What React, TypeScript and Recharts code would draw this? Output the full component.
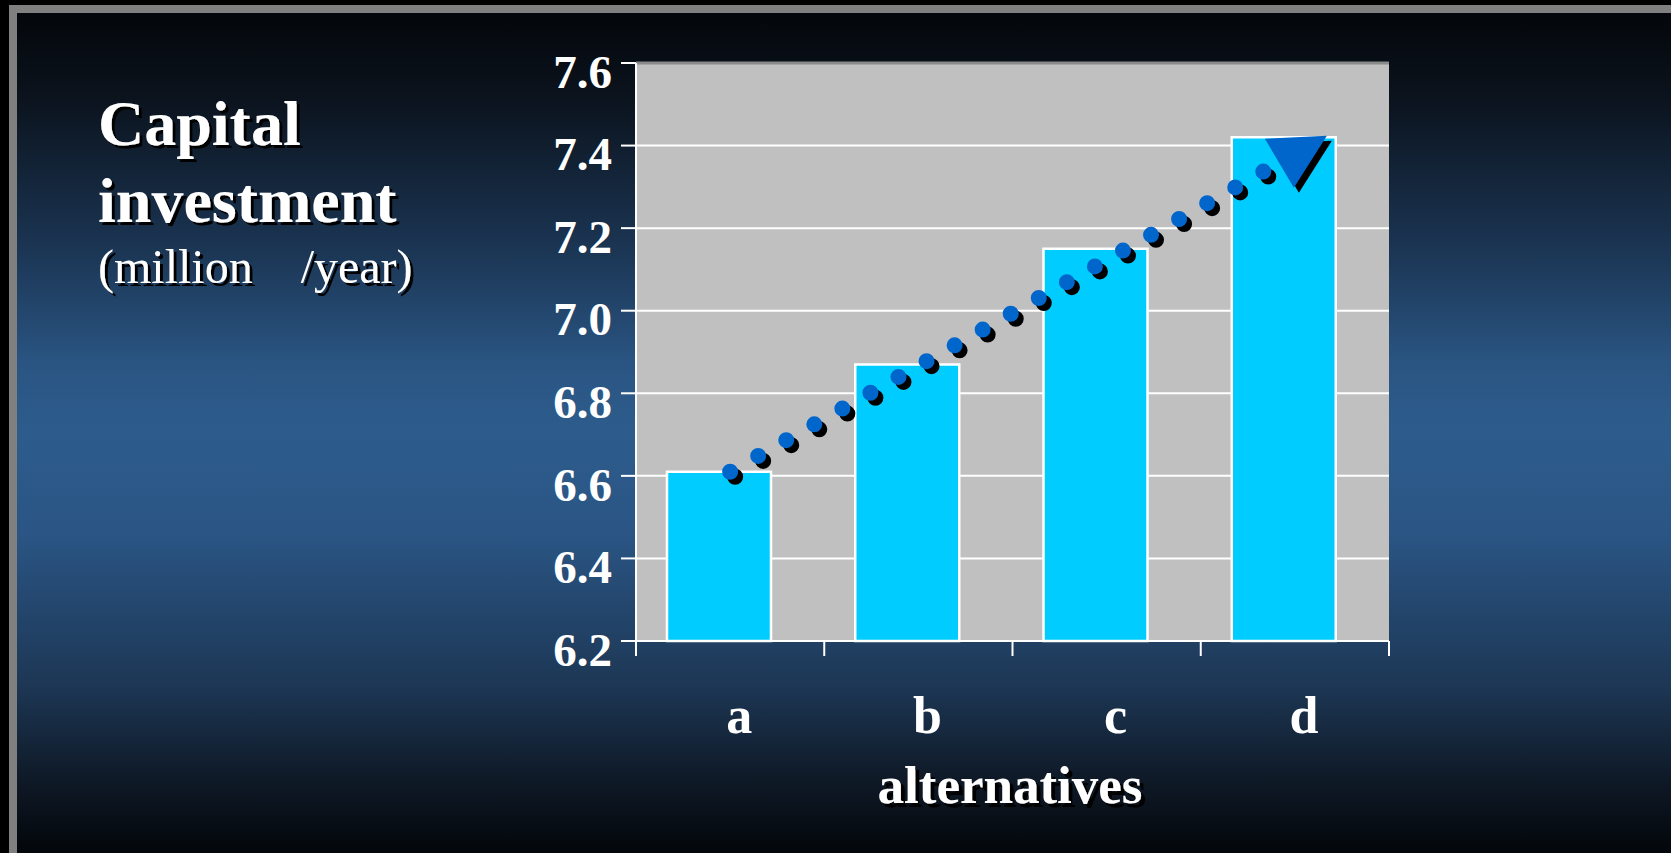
import React from 'react';
import { ComposedChart, Bar, Line, XAxis, YAxis, CartesianGrid, ReferenceLine } from 'recharts';

const categories = ['a', 'b', 'c', 'd'];
const investment = [6.61, 6.87, 7.15, 7.42];
// dotted arrow from a to d
const trend = [6.61, null, null, 7.38];
const yTicks = [6.2, 6.4, 6.6, 6.8, 7.0, 7.2, 7.4, 7.6];

const FONT = '"Liberation Serif", "Times New Roman", serif';
const LABEL_GAP = 55;
const TICK_LEN = 15;

const data = categories.map((name, i) => ({
  name,
  value: investment[i],
  trend: trend[i],
}));

// category label + tick marks on the category boundaries (Excel style)
const CategoryTick = (props: any) => {
  const { x, y, payload, index } = props;
  const half = payload?.offset ?? 0;
  const top = y - LABEL_GAP;
  const isLast = index === categories.length - 1;
  return (
    <g>
      <line x1={x - half} y1={top} x2={x - half} y2={top + TICK_LEN} stroke="#fff" strokeWidth={2} />
      {isLast && <line x1={x + half} y1={top} x2={x + half} y2={top + TICK_LEN} stroke="#fff" strokeWidth={2} />}
      <text x={x + 9} y={y} dy="0.71em" textAnchor="middle" fill="#fff" fontSize={52} fontWeight="bold" fontFamily={FONT}>
        {payload.value}
      </text>
    </g>
  );
};

// arrow head at the end of the dotted line
const ArrowHead = (props: any) => {
  const { cx, cy, index } = props;
  if (index !== categories.length - 1 || cx == null || cy == null) {
    return <g key={`dot-${index}`} />;
  }
  const pts = (dx: number, dy: number) =>
    `${cx - 30 + dx},${cy - 15 + dy} ${cx + 32 + dx},${cy - 18 + dy} ${cx - 1 + dx},${cy + 34 + dy}`;
  return (
    <g key={`dot-${index}`}>
      <polygon points={pts(5, 5)} fill="#000" />
      <polygon points={pts(0, 0)} fill="#0066CC" />
    </g>
  );
};

const ShadowText = ({ x, y, size, bold, children, filter = 'url(#txtShadow3)', anchor = 'start' }: any) => (
  <text
    x={x}
    y={y}
    fontSize={size}
    fontWeight={bold ? 'bold' : 'normal'}
    fontFamily={FONT}
    fill="#fff"
    textAnchor={anchor}
    filter={filter}
    style={{ whiteSpace: 'pre' }}
  >
    {children}
  </text>
);

export default function App() {
  return (
    <div style={{ position: 'fixed', left: 0, top: 0, width: 1671, height: 853, background: '#000', overflow: 'hidden' }}>
      <style>{`.trend-line .recharts-line-curve { filter: drop-shadow(5px 5px 0 #000); }`}</style>
      {/* slide frame */}
      <div style={{ position: 'absolute', left: 9, top: 5, right: 0, bottom: 0, background: '#808080' }} />
      <div
        style={{
          position: 'absolute',
          left: 17,
          top: 13,
          right: 0,
          bottom: 0,
          background:
            'linear-gradient(to bottom, #04070b 0%, #0b131d 10%, #1a3350 27%, #2a5583 42%, #2d5c8c 50%, #2a5584 62%, #1d3755 80%, #0f1a28 91%, #03060a 100%)',
        }}
      />

      <div style={{ position: 'absolute', left: 0, top: 0 }}>
        <ComposedChart
          width={1671}
          height={853}
          data={data}
          margin={{ top: 63, right: 282, left: 536, bottom: 112 }}
          barGap={0}
        >
          <CartesianGrid fill="#C0C0C0" vertical={false} stroke="#fff" strokeWidth={2} yAxisId="left" />
          <XAxis
            dataKey="name"
            height={100}
            axisLine={{ stroke: '#fff', strokeWidth: 2 }}
            tickLine={false}
            tickSize={0}
            tickMargin={LABEL_GAP}
            interval={0}
            tick={<CategoryTick />}
          />
          <YAxis
            yAxisId="left"
            domain={[6.2, 7.6]}
            ticks={yTicks}
            interval={0}
            width={100}
            tickSize={TICK_LEN}
            tickMargin={9}
            tickFormatter={(v: number) => v.toFixed(1)}
            axisLine={{ stroke: '#fff', strokeWidth: 2 }}
            tickLine={{ stroke: '#fff', strokeWidth: 2 }}
            tick={{ fill: '#fff', fontSize: 47, fontWeight: 'bold', fontFamily: FONT, dy: 8 }}
          />
          <YAxis
            yAxisId="right"
            orientation="right"
            domain={[6.2, 7.6]}
            width={0}
            tick={false}
            tickLine={false}
            axisLine={{ stroke: '#7a7a7a', strokeWidth: 3 }}
          />
          <ReferenceLine yAxisId="left" y={7.6} stroke="#8a8a8a" strokeWidth={3} />
          <Bar
            yAxisId="left"
            dataKey="value"
            barSize={104}
            fill="#00CCFF"
            stroke="#fff"
            strokeWidth={2.5}
            isAnimationActive={false}
          />
          <Bar
            yAxisId="left"
            dataKey="value"
            barSize={22}
            fill="transparent"
            stroke="none"
            isAnimationActive={false}
          />
          <Line
            className="trend-line"
            yAxisId="left"
            dataKey="trend"
            connectNulls
            stroke="#0066CC"
            strokeWidth={16}
            strokeLinecap="round"
            strokeDasharray="0 32.2"
            dot={ArrowHead}
            activeDot={false}
            isAnimationActive={false}
          />
        </ComposedChart>
      </div>

      <svg width={1671} height={853} style={{ position: 'absolute', left: 0, top: 0, pointerEvents: 'none' }}>
        <defs>
          <filter id="txtShadow3" x="-10%" y="-10%" width="130%" height="140%">
            <feDropShadow dx={3} dy={3} stdDeviation={0} floodColor="#000" floodOpacity={1} />
          </filter>
          <filter id="txtShadow4" x="-10%" y="-10%" width="130%" height="140%">
            <feDropShadow dx={4} dy={4} stdDeviation={0} floodColor="#000" floodOpacity={1} />
          </filter>
        </defs>
        <ShadowText x={98} y={145} size={64} bold>Capital</ShadowText>
        <ShadowText x={98} y={222} size={64} bold>investment</ShadowText>
        <ShadowText x={98} y={283} size={48}>{'(million    /year)'}</ShadowText>
        <ShadowText x={1010} y={803} size={53} bold filter="url(#txtShadow4)" anchor="middle">alternatives</ShadowText>
      </svg>
    </div>
  );
}
